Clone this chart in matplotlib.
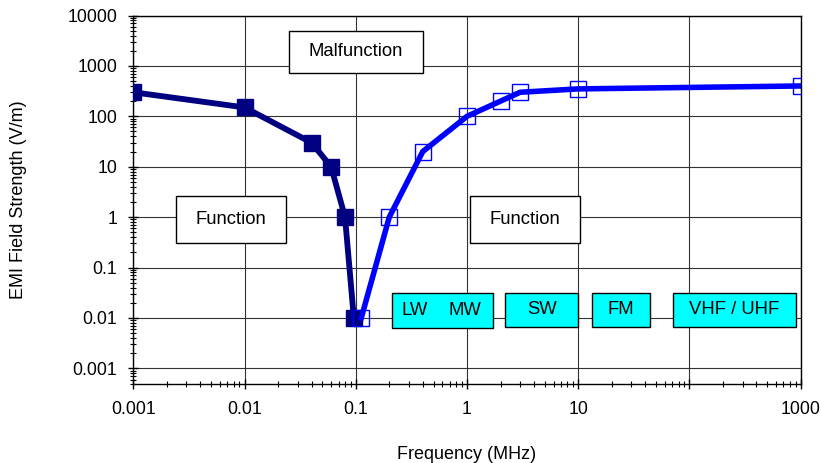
import numpy as np
import matplotlib.pyplot as plt
from matplotlib.patches import Rectangle
from matplotlib.ticker import FixedLocator, FixedFormatter, LogLocator, NullFormatter

plt.rcParams['font.family'] = ['Liberation Sans', 'DejaVu Sans']

# low frequency curve (filled squares)
freq_low = [0.001, 0.01, 0.04, 0.06, 0.08, 0.096]
field_low = [300, 150, 30, 10, 1, 0.01]

# high frequency curve (open squares)
freq_high = [0.112, 0.2, 0.4, 1, 2, 3, 10, 1000]
field_high = [0.01, 1, 20, 100, 200, 300, 350, 400]

xticks = [0.001, 0.01, 0.1, 1, 10, 100, 1000]
xticklabels = ['0.001', '0.01', '0.1', '1', '10', '', '1000']
yticks = [0.001, 0.01, 0.1, 1, 10, 100, 1000, 10000]
yticklabels = ['0.001', '0.01', '0.1', '1', '10', '100', '1000', '10000']

# region labels: text, box (x0, y0, x1, y1) in axes fraction, white or cyan
regions = [
    ('Malfunction', (0.2333, 0.8432, 0.4341, 0.9592), 'white'),
    ('Function', (0.0640, 0.3823, 0.2288, 0.5090), 'white'),
    ('Function', (0.5045, 0.3823, 0.6693, 0.5090), 'white'),
    ('', (0.3872, 0.1503, 0.5394, 0.2454), '#00FFFF'),
    ('SW', (0.5574, 0.1530, 0.6663, 0.2465), '#00FFFF'),
    ('FM', (0.6877, 0.1530, 0.7742, 0.2465), '#00FFFF'),
    ('VHF / UHF', (0.8091, 0.1530, 0.9925, 0.2465), '#00FFFF'),
]

fig = plt.figure(figsize=(8.21, 4.63), dpi=100)
ax = fig.add_axes([0.1624, 0.1717, 0.8129, 0.7948])
ax.set_xscale('log')
ax.set_yscale('log')
ax.set_xlim(0.001, 1000)
ax.set_ylim(0.0005, 10000)

ax.grid(True, which='major', color='#333333', linewidth=0.8, zorder=0)
ax.set_axisbelow(True)

ax.plot(freq_low, field_low, color='#000080', linewidth=4.2, marker='s',
        markersize=11, markerfacecolor='#000080', markeredgecolor='#000080', zorder=3)
ax.plot(freq_high, field_high, color='#0000FF', linewidth=4.0, marker='s',
        markersize=11, markerfacecolor='none', markeredgecolor='#0000FF',
        markeredgewidth=1.0, zorder=4)

for text, (x0, y0, x1, y1), fc in regions:
    ax.add_patch(Rectangle((x0, y0), x1 - x0, y1 - y0, transform=ax.transAxes,
                           facecolor=fc, edgecolor='black', linewidth=1.0, zorder=5))
    if text:
        ax.text((x0 + x1) / 2, (y0 + y1) / 2, text, transform=ax.transAxes,
                ha='center', va='center', fontsize=13.3, zorder=6)
ax.text(0.4222, 0.1984, 'LW', transform=ax.transAxes, ha='center', va='center', fontsize=13.3, zorder=6)
ax.text(0.4970, 0.1984, 'MW', transform=ax.transAxes, ha='center', va='center', fontsize=13.3, zorder=6)

ax.xaxis.set_major_locator(FixedLocator(xticks))
ax.xaxis.set_major_formatter(FixedFormatter(xticklabels))
ax.yaxis.set_major_locator(FixedLocator(yticks))
ax.yaxis.set_major_formatter(FixedFormatter(yticklabels))
ax.xaxis.set_minor_locator(LogLocator(base=10, subs=np.arange(2, 10), numticks=20))
ax.yaxis.set_minor_locator(LogLocator(base=10, subs=np.arange(2, 10), numticks=20))
ax.xaxis.set_minor_formatter(NullFormatter())
ax.yaxis.set_minor_formatter(NullFormatter())
ax.tick_params(which='major', direction='inout', length=7, width=1, labelsize=12.7, pad=9)
ax.tick_params(which='minor', direction='inout', length=4, width=0.8)
ax.tick_params(axis='y', which='major', pad=8)

for s in ax.spines.values():
    s.set_linewidth(1.0)

ax.set_xlabel('Frequency (MHz)', fontsize=13, labelpad=20)
ax.set_ylabel('EMI Field Strength (V/m)', fontsize=13, labelpad=29)

fig.savefig('out.png', dpi=100)
